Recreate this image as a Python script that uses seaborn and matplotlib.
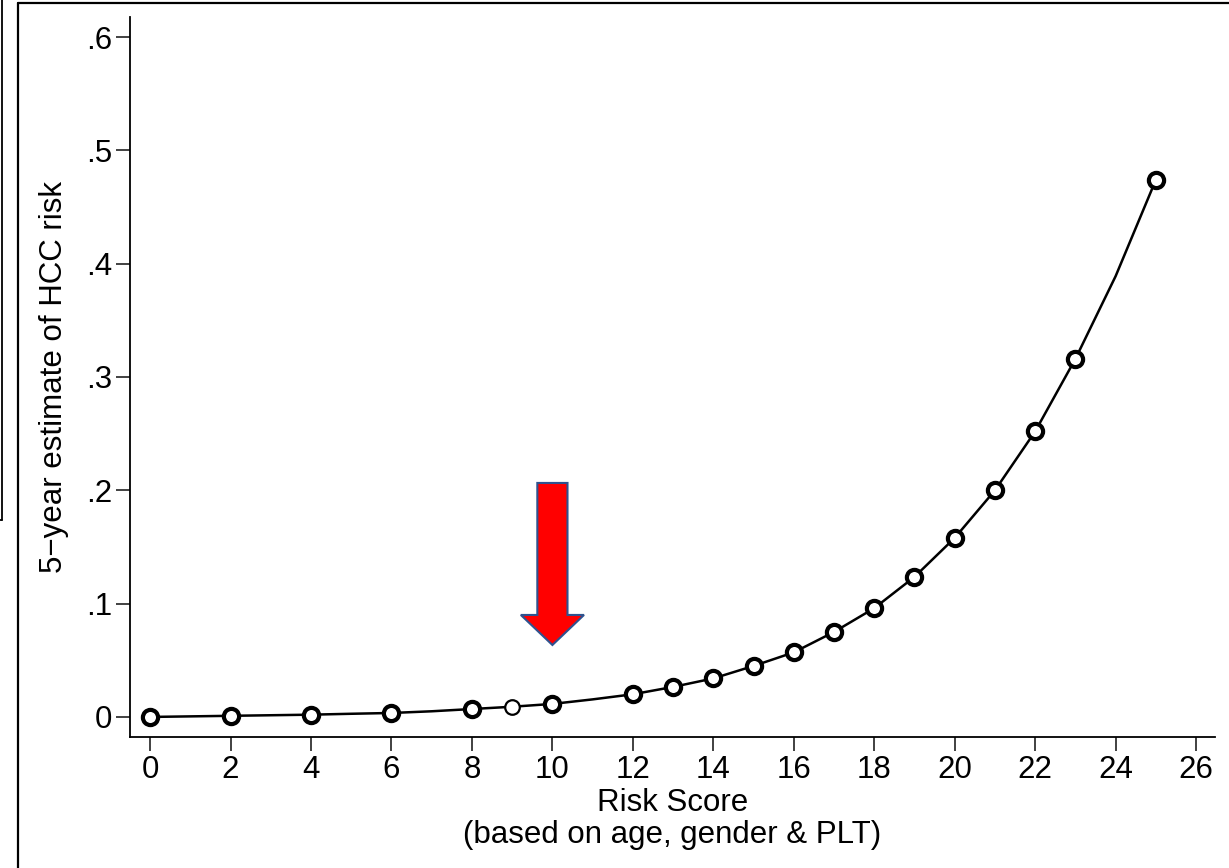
import matplotlib
matplotlib.use("Agg")
import matplotlib.pyplot as plt
from matplotlib.lines import Line2D
from matplotlib.patches import FancyArrow
import seaborn as sns
import pandas as pd

# Marker data (risk score -> 5-year estimate of HCC risk)
scores = [0, 2, 4, 6, 8, 9, 10, 12, 13, 14, 15, 16, 17, 18, 19, 20, 21, 22, 23, 25]
risk = [0.000, 0.001, 0.002, 0.0035, 0.007, 0.009, 0.0115, 0.020, 0.0265, 0.034,
        0.045, 0.057, 0.075, 0.096, 0.1236, 0.158, 0.200, 0.252, 0.316, 0.474]
# Fitted curve read at every integer score
curve_scores = list(range(0, 26))
curve_risk = [0.000, 0.0005, 0.001, 0.0015, 0.002, 0.0028, 0.0035, 0.005, 0.007, 0.009,
              0.0115, 0.0155, 0.020, 0.0265, 0.034, 0.045, 0.057, 0.075, 0.096, 0.1236,
              0.158, 0.200, 0.252, 0.316, 0.389, 0.474]
xticks = list(range(0, 27, 2))
yticks = [0, 0.1, 0.2, 0.3, 0.4, 0.5, 0.6]
yticklabels = ["0", ".1", ".2", ".3", ".4", ".5", ".6"]

sns.set_style("white")
plt.rcParams["font.family"] = ["Liberation Sans", "DejaVu Sans"]

W, H = 1229, 868
fig = plt.figure(figsize=(W / 100, H / 100), dpi=100)
ax = fig.add_axes([130 / W, 1 - 737 / H, (1215 - 130) / W, (737 - 17) / H])

curve_df = pd.DataFrame({"score": curve_scores, "risk": curve_risk})
pts_df = pd.DataFrame({"score": scores, "risk": risk})
sns.lineplot(data=curve_df, x="score", y="risk", ax=ax, color="black", linewidth=1.8,
             zorder=2)
main = pts_df[pts_df["score"] != 9]
thin = pts_df[pts_df["score"] == 9]
sns.scatterplot(data=main, x="score", y="risk", ax=ax, s=120, marker="o",
                facecolor="white", edgecolor="black", linewidth=3.0, zorder=3)
sns.scatterplot(data=thin, x="score", y="risk", ax=ax, s=110, marker="o",
                facecolor="white", edgecolor="black", linewidth=1.6, zorder=3)

arrow = FancyArrow(10, 0.2065, 0, -(0.2065 - 0.0635), width=0.75, head_width=1.57,
                   head_length=0.0265, length_includes_head=True,
                   facecolor="#FF0000", edgecolor="#2F528F", linewidth=1.5, zorder=4)
ax.add_patch(arrow)

ax.set_xlim(-0.5, 26.47)
ax.set_ylim(-0.0177, 0.6177)
ax.set_xticks(xticks)
ax.set_xticklabels([str(t) for t in xticks])
ax.set_yticks(yticks)
ax.set_yticklabels(yticklabels)
ax.tick_params(axis="both", direction="out", length=10, width=1.3, color="#333333",
               labelsize=22.5, pad=3, labelcolor="black", bottom=True, left=True)
for side in ["top", "right"]:
    ax.spines[side].set_visible(False)
for side in ["left", "bottom"]:
    ax.spines[side].set_color("black")
    ax.spines[side].set_linewidth(1.3)

ax.set_xlabel("Risk Score\n(based on age, gender & PLT)", fontsize=22.5, labelpad=2,
              linespacing=1.1, color="black")
ax.set_ylabel("5\u2212year estimate of HCC risk", fontsize=22.5, labelpad=12,
              color="black")

# Page frame lines
fig.add_artist(Line2D([18 / W, 1.0], [1 - 3 / H, 1 - 3 / H], transform=fig.transFigure,
                      color="black", linewidth=1.6))
fig.add_artist(Line2D([18 / W, 18 / W], [0, 1 - 3 / H], transform=fig.transFigure,
                      color="black", linewidth=1.6))
fig.add_artist(Line2D([2 / W, 2 / W], [1 - 520 / H, 1.0], transform=fig.transFigure,
                      color="black", linewidth=1.3))
fig.add_artist(Line2D([0, 2 / W], [1 - 520 / H, 1 - 520 / H], transform=fig.transFigure,
                      color="black", linewidth=1.3))

fig.savefig("out.png", dpi=100, facecolor="white")
